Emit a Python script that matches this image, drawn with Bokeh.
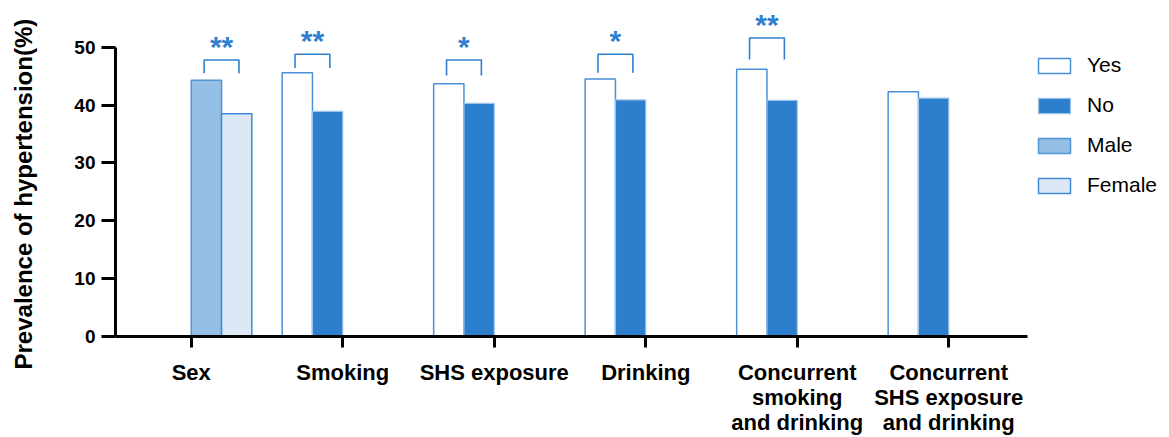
from bokeh.plotting import figure
from bokeh.models import ColumnDataSource, Range1d, FixedTicker, Legend, LegendItem, Title
from bokeh.core.properties import value
from bokeh.embed import file_html
from bokeh.resources import INLINE

# ---------------- data ----------------
categories = ["Sex", "Smoking", "SHS exposure", "Drinking",
              "Concurrent\nsmoking\nand drinking",
              "Concurrent\nSHS exposure\nand drinking"]
yes_values = [None, 45.6, 43.7, 44.5, 46.2, 42.3]
no_values = [None, 38.9, 40.3, 40.9, 40.8, 41.2]
male_values = [44.3, None, None, None, None, None]
female_values = [38.5, None, None, None, None, None]
sig_labels = ["**", "**", "*", "*", "**", ""]
bracket_leg = [45.5, 46.4, 45.1, 45.6, 47.9, None]
bracket_top = [47.8, 48.8, 47.8, 48.8, 51.6, None]
y_ticks = [0, 10, 20, 30, 40, 50]

FONT = "Liberation Sans"
DARK = "#2b7fcc"
LINE = "#4a90d9"
BRK = "#2f80cf"

# series offsets inside a group (4 slots: Yes, No, Male, Female)
offsets = {"Yes": -0.3, "No": -0.1, "Male": 0.1, "Female": 0.3}
BAR_W = 0.2


def series_source(vals, off):
    xs, ys = [], []
    for i, v in enumerate(vals):
        if v is not None:
            xs.append(i + off)
            ys.append(v)
    return ColumnDataSource(dict(x=xs, top=ys))


p = figure(width=1169, height=437, output_backend="svg", toolbar_location=None,
           x_range=Range1d(-0.5, 6.457), y_range=Range1d(0, 58.08),
           min_border_left=115, min_border_right=0, min_border_top=0,
           min_border_bottom=99)
p.outline_line_color = None
p.grid.visible = False
p.background_fill_color = "white"

r_yes = p.vbar(x="x", top="top", width=BAR_W, source=series_source(yes_values, offsets["Yes"]),
               fill_color="white", line_color=LINE, line_width=1.5)
r_no = p.vbar(x="x", top="top", width=BAR_W, source=series_source(no_values, offsets["No"]),
              fill_color=DARK, line_color="#9cc3ea", line_width=1.2)
r_male = p.vbar(x="x", top="top", width=BAR_W, source=series_source(male_values, offsets["Male"]),
                fill_color="#96bfe6", line_color="#4f93d8", line_width=1.5)
r_female = p.vbar(x="x", top="top", width=BAR_W, source=series_source(female_values, offsets["Female"]),
                  fill_color="#dce8f6", line_color="#3e8ad6", line_width=1.5)

# significance brackets
bxs, bys, sx, sy, st = [], [], [], [], []
for i, lab in enumerate(sig_labels):
    if not lab:
        continue
    c = i + (0.2 if male_values[i] is not None else -0.2)
    hw = 0.115
    bxs.append([c - hw, c - hw, c + hw, c + hw])
    bys.append([bracket_leg[i], bracket_top[i], bracket_top[i], bracket_leg[i]])
    sx.append(c)
    sy.append(bracket_top[i] + 2.4)
    st.append(lab)
p.multi_line(xs=bxs, ys=bys, line_color=BRK, line_width=1.6)
p.text(x=sx, y=sy, text=st, text_font=value(FONT), text_font_style="bold",
       text_font_size="30px", text_color=BRK, text_align="center",
       text_baseline="alphabetic")

# axes
xa = p.xaxis[0]
xa.ticker = FixedTicker(ticks=list(range(len(categories))))
xa.major_label_overrides = {i: c for i, c in enumerate(categories)}
xa.bounds = (-0.5, 5.52)
xa.axis_line_width = 3
xa.major_tick_line_width = 3
xa.major_tick_out = 11
xa.major_tick_in = 0
xa.minor_tick_line_color = None
xa.major_label_standoff = 12
xa.major_label_text_font = FONT
xa.major_label_text_font_style = "bold"
xa.major_label_text_font_size = "22px"
xa.major_label_text_color = "black"
xa.major_label_text_line_height = 1.0
xa.major_label_orientation = "horizontal"

ya = p.yaxis[0]
ya.ticker = FixedTicker(ticks=y_ticks)
ya.bounds = (0, 50)
ya.axis_line_width = 3
ya.major_tick_line_width = 3
ya.major_tick_out = 14
ya.major_tick_in = 0
ya.minor_tick_line_color = None
ya.major_label_standoff = 6
ya.major_label_text_font = FONT
ya.major_label_text_font_style = "bold"
ya.major_label_text_font_size = "19px"
ya.major_label_text_color = "black"

# blank spacer between the y axis and its title
p.add_layout(Title(text=" ", text_font_size="12px", standoff=19), "left")
p.add_layout(Title(text="Prevalence of hypertension(%)", align="left", offset=-33,
                   standoff=0, text_font=FONT, text_font_style="bold",
                   text_font_size="24px", text_color="black"), "left")

legend = Legend(items=[LegendItem(label="Yes", renderers=[r_yes]),
                       LegendItem(label="No", renderers=[r_no]),
                       LegendItem(label="Male", renderers=[r_male]),
                       LegendItem(label="Female", renderers=[r_female])],
                location=(919, 139), orientation="vertical",
                glyph_width=40, glyph_height=19, label_standoff=13, spacing=16,
                padding=0, margin=0, border_line_color=None, background_fill_alpha=0,
                label_text_font=FONT, label_text_font_size="21px", label_text_color="black")
p.add_layout(legend, "center")

open("out.html", "w").write(file_html(p, INLINE))
